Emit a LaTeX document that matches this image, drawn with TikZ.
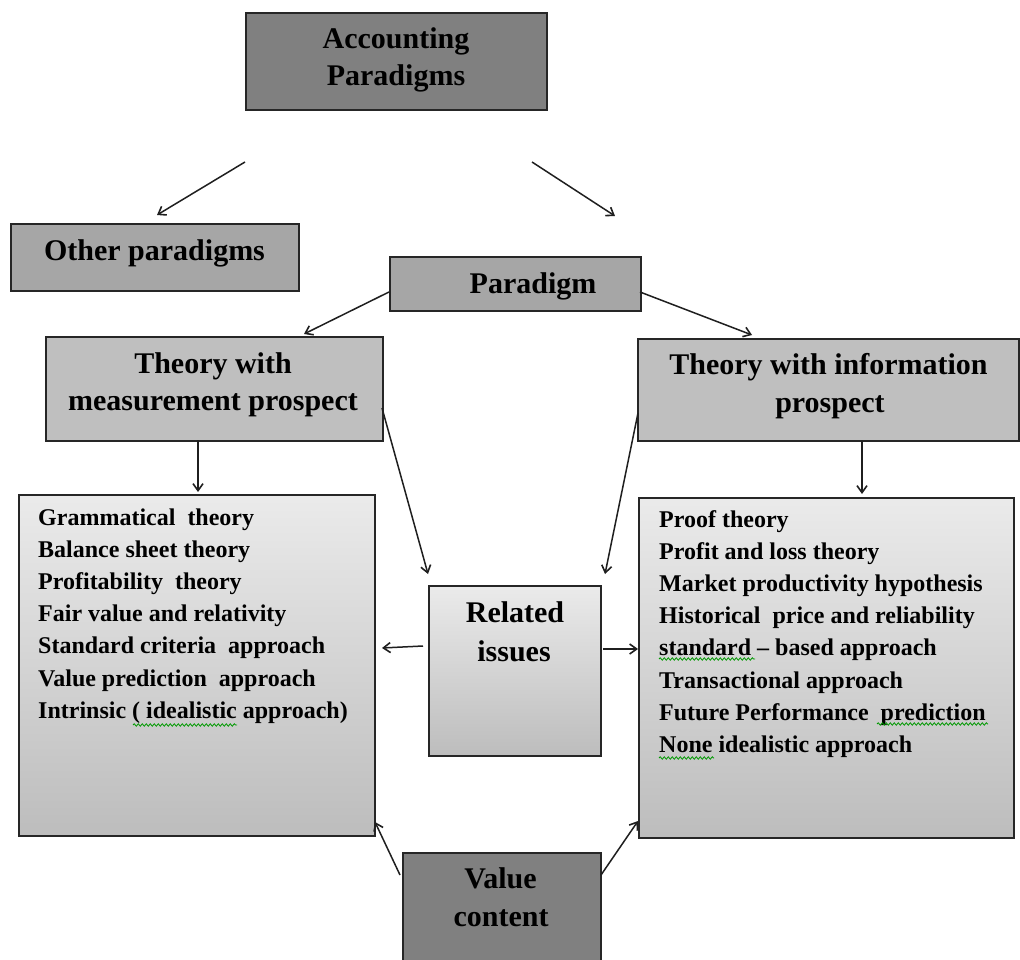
\documentclass[tikz,border=0pt]{standalone}
\usepackage{fontspec}
\setmainfont{Liberation Serif}
\usetikzlibrary{arrows.meta,decorations.pathmorphing}
\begin{document}
\begin{tikzpicture}[x=1pt,y=-1pt,
 box/.style={draw=black!85,line width=1.6pt,inner sep=0pt,anchor=north west},
 dark/.style={box,fill=black!50},
 mid/.style={box,fill=black!35},
 light/.style={box,fill=black!25},
 grad/.style={box,top color=black!8,bottom color=black!26},
 head/.style={font=\fontsize{30}{37}\selectfont\bfseries,anchor=base,inner sep=0pt},
 item/.style={font=\fontsize{24}{32}\selectfont\bfseries,anchor=base west,inner sep=0pt},
 arr/.style={draw=black!88,line width=1.5pt,-{Straight Barb[length=7pt,width=10pt,line width=1.6pt]}},
 spell/.style={draw=green!60!black,line width=0.8pt,decorate,decoration={snake,amplitude=1.2pt,segment length=4pt}}]
\clip (0,0) rectangle (1020,960);
\fill[white] (0,0) rectangle (1020,960);

% boxes
\node[dark,minimum width=301pt,minimum height=97pt] (acc) at (245,12) {};
\node[mid,minimum width=288pt,minimum height=67pt] (other) at (10,223) {};
\node[mid,minimum width=251pt,minimum height=54pt] (para) at (389,256) {};
\node[light,minimum width=337pt,minimum height=104pt] (tmeas) at (45,336) {};
\node[light,minimum width=381pt,minimum height=102pt] (tinfo) at (637,338) {};
\node[grad,minimum width=356pt,minimum height=341pt] (lmeth) at (18,494) {};
\node[grad,minimum width=375pt,minimum height=340pt] (rmeth) at (638,497) {};
\node[grad,minimum width=172pt,minimum height=170pt] (rel) at (428,585) {};
\node[dark,minimum width=198pt,minimum height=120pt] (val) at (402,852) {};

% headings
\node[head] (accA) at (396,49) {Accounting};
\node[head] (accB) at (396,86) {Paradigms};
\node[head] (otherT) at (154.5,260) {Other paradigms};
\node[head] (paraT) at (533,293) {Paradigm};
\node[head] (tmeasA) at (213,373) {Theory with};
\node[head] (tmeasB) at (213,410) {measurement prospect};
\node[head] (tinfoA) at (828.5,374) {Theory with information};
\node[head] (tinfoB) at (830,412) {prospect};
\node[head] (relA) at (515,622.7) {Related};
\node[head] (relB) at (514,661.7) {issues};
\node[head] (valA) at (500.5,888) {Value};
\node[head] (valB) at (501,926) {content};

% left list
\foreach \t [count=\i from 0] in {Grammatical\ \ theory,Balance sheet theory,Profitability\ \ theory,Fair value and relativity,Standard criteria\ \ approach,Value prediction\ \ approach,Intrinsic ( idealistic approach)}
  \node[item] (l\i) at (38,525+32.2*\i) {\t};
% right list
\foreach \t [count=\i from 0] in {Proof theory,Profit and loss theory,Market productivity hypothesis,Historical\ \ price and reliability,standard -- based approach,Transactional approach,Future Performance\ \ prediction,None idealistic approach}
  \node[item] (r\i) at (659,527+32.2*\i) {\t};

% spell-check underlines
\coordinate (s1a) at (133,725); \coordinate (s1b) at (237,725);
\coordinate (s2a) at (659,659); \coordinate (s2b) at (755,659);
\coordinate (s3a) at (877,724); \coordinate (s3b) at (988,724);
\coordinate (s4a) at (659,758); \coordinate (s4b) at (714,758);
\draw[spell] (s1a) -- (s1b);
\draw[spell] (s2a) -- (s2b);
\draw[spell] (s3a) -- (s3b);
\draw[spell] (s4a) -- (s4b);

% connector endpoints
\coordinate (a1s) at (245,162); \coordinate (a1e) at (157,215);
\coordinate (a2s) at (532,162); \coordinate (a2e) at (615,216);
\coordinate (a3s) at (389,292); \coordinate (a3e) at (304,334);
\coordinate (a4s) at (640,292); \coordinate (a4e) at (752,335);
\coordinate (a5s) at (198,440); \coordinate (a5e) at (198,492);
\coordinate (a6s) at (862,441); \coordinate (a6e) at (862,494);
\coordinate (a7s) at (382,408); \coordinate (a7e) at (428,574);
\coordinate (a8s) at (638,413); \coordinate (a8e) at (605,574);
\coordinate (a9s) at (423,646); \coordinate (a9e) at (382,648);
\coordinate (a10s) at (603,649); \coordinate (a10e) at (638,649);
\coordinate (a11s) at (400,875); \coordinate (a11e) at (375,822);
\coordinate (a12s) at (601,875); \coordinate (a12e) at (638,821);

\draw[arr] (a1s) -- (a1e);
\draw[arr] (a2s) -- (a2e);
\draw[arr] (a3s) -- (a3e);
\draw[arr] (a4s) -- (a4e);
\draw[arr] (a5s) -- (a5e);
\draw[arr] (a6s) -- (a6e);
\draw[arr] (a7s) -- (a7e);
\draw[arr] (a8s) -- (a8e);
\draw[arr] (a9s) -- (a9e);
\draw[arr] (a10s) -- (a10e);
\draw[arr] (a11s) -- (a11e);
\draw[arr] (a12s) -- (a12e);
\end{tikzpicture}
\end{document}
